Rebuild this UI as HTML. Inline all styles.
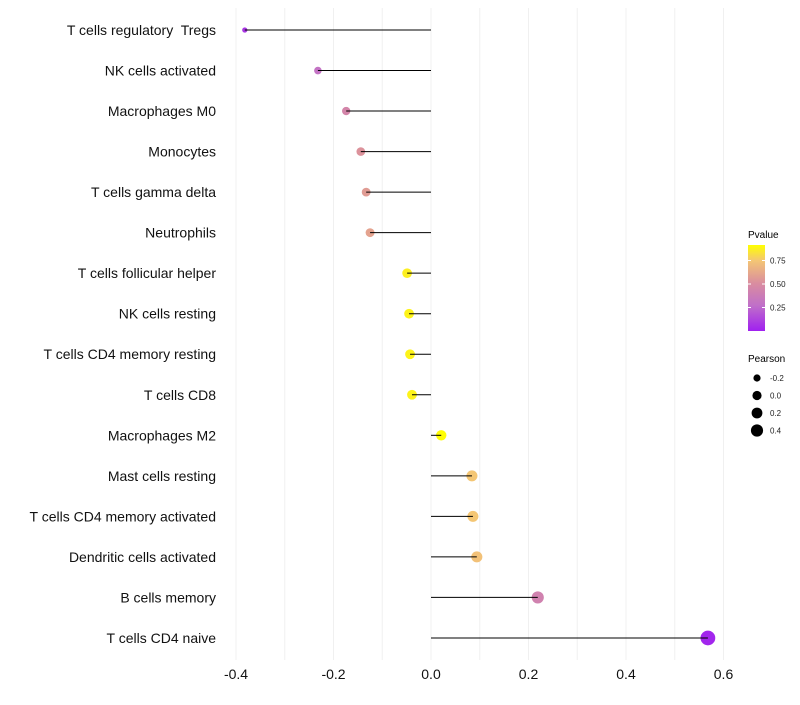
<!DOCTYPE html>
<html><head><meta charset="utf-8"><style>
body{margin:0;background:#fff;font-family:"Liberation Sans",sans-serif}
svg text{font-family:"Liberation Sans",sans-serif;white-space:pre}
</style></head><body>
<svg width="800" height="700">
<g id="grid"></g>
<g id="marks"></g>
<g id="ylab"></g>
<g id="xlab"></g>
<g>
<defs><linearGradient id="pg" x1="0" y1="1" x2="0" y2="0">
<stop offset="0" stop-color="#a020f0"/><stop offset="0.3" stop-color="#c070c8"/><stop offset="0.55" stop-color="#d98ca0"/><stop offset="0.82" stop-color="#f4c674"/><stop offset="1" stop-color="#ffff00"/></linearGradient></defs>
<text x="748" y="238" font-size="10">Pvalue</text>
<rect x="748" y="245" width="17" height="86" fill="url(#pg)"/>
<g id="pticks"></g>
</g>
<g id="sizeleg">
<text x="748" y="362" font-size="10">Pearson</text>
</g>
</svg>
<script>
const categories=["T cells regulatory  Tregs","NK cells activated","Macrophages M0","Monocytes","T cells gamma delta","Neutrophils","T cells follicular helper","NK cells resting","T cells CD4 memory resting","T cells CD8","Macrophages M2","Mast cells resting","T cells CD4 memory activated","Dendritic cells activated","B cells memory","T cells CD4 naive"];
const pearson=[-0.382,-0.232,-0.174,-0.144,-0.133,-0.125,-0.049,-0.045,-0.043,-0.039,0.021,0.084,0.086,0.094,0.219,0.568];
const pvalue=[0.08,0.3,0.45,0.53,0.57,0.6,0.87,0.88,0.88,0.88,0.91,0.75,0.75,0.73,0.42,0.02];
const xTicks=[-0.4,-0.2,0.0,0.2,0.4,0.6];
const xTickLabels=["-0.4","-0.2","0.0","0.2","0.4","0.6"];
const pTicks=[0.25,0.5,0.75];
const pTickLabels=["0.25","0.50","0.75"];
const sizeVals=[-0.2,0.0,0.2,0.4];
const sizeLabels=["-0.2","0.0","0.2","0.4"];
const NS="http://www.w3.org/2000/svg";
const X=v=>431+v*487.5;
const Y=i=>30+i*40.53;
const R=v=>Math.sqrt(Math.max(2.5,26+50*v));
const PY=p=>331-p*94;
const stops=[[0,[160,32,240]],[0.3,[192,112,200]],[0.55,[217,140,160]],[0.82,[244,198,116]],[1,[255,255,0]]];
function col(p){const t=Math.max(0,Math.min(1,p/0.915));
for(let k=1;k<stops.length;k++){if(t<=stops[k][0]){const [t0,a]=stops[k-1],[t1,b]=stops[k];const u=(t-t0)/(t1-t0);
return `rgb(${a.map((x,j)=>Math.round(x+(b[j]-x)*u)).join(',')})`}}return 'rgb(255,255,0)'}
function mk(tag,at,par){const el=document.createElementNS(NS,tag);for(const k in at)el.setAttribute(k,at[k]);par.appendChild(el);return el}
const grid=document.getElementById('grid');
for(let v=-0.4;v<=0.651;v+=0.1){const l=mk('line',{x1:X(v),x2:X(v),y1:8,y2:660,stroke:'#f0f0f0','stroke-width':1},grid);

}
const marks=document.getElementById('marks'),ylab=document.getElementById('ylab');
categories.forEach((c,i)=>{
const d=mk('circle',{cx:X(pearson[i]),cy:Y(i),r:R(pearson[i]),fill:col(pvalue[i])},marks);


const l=mk('line',{x1:X(0),x2:X(pearson[i]),y1:Y(i),y2:Y(i),stroke:'#000','stroke-width':1},marks);


const t=mk('text',{x:216,y:Y(i)+5,'text-anchor':'end','font-size':14,fill:'#111'},ylab);t.textContent=c;


});
const xlab=document.getElementById('xlab');
xTicks.forEach((v,i)=>{const t=mk('text',{x:X(v),y:679,'text-anchor':'middle','font-size':14,fill:'#111'},xlab);t.textContent=xTickLabels[i];

});
const pt=document.getElementById('pticks');
pTicks.forEach((p,i)=>{
const l=mk('line',{x1:748,x2:751,y1:PY(p),y2:PY(p),stroke:'#fff'},pt);
const l2=mk('line',{x1:762,x2:765,y1:PY(p),y2:PY(p),stroke:'#fff'},pt);
const t=mk('text',{x:770,y:PY(p)+3,'font-size':8,fill:'#222'},pt);t.textContent=pTickLabels[i];

});
const sl=document.getElementById('sizeleg');
sizeVals.forEach((v,i)=>{const y=378+i*17.5;
const c=mk('circle',{cx:757,cy:y,r:R(v)*0.9,fill:'#000'},sl);
const t=mk('text',{x:770,y:y+3,'font-size':8,fill:'#222'},sl);t.textContent=sizeLabels[i];

});
</script>
</body></html>
